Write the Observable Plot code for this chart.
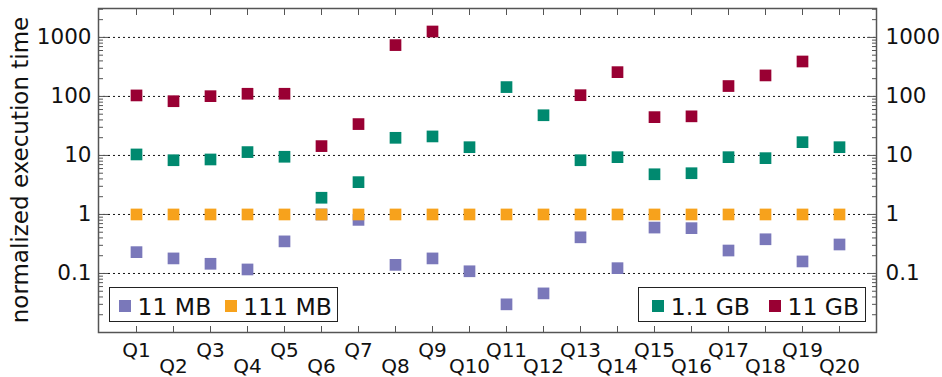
<!DOCTYPE html>
<html><head><meta charset="utf-8">
<script src="https://cdn.jsdelivr.net/npm/d3@7"></script>
<script src="https://cdn.jsdelivr.net/npm/@observablehq/plot@0.6"></script>
<style>
body{margin:0;background:#fff;font-family:"DejaVu Sans",sans-serif;}
#wrap{position:relative;width:942px;height:377px;overflow:hidden;}
.legend{position:absolute;border:1px solid #222;background:#fff;box-sizing:border-box;top:287px;height:35px;}
.sw{position:absolute;width:11.5px;height:11.5px;top:12px;}
.lt{position:absolute;font-size:23.5px;line-height:23px;top:8px;color:#111;white-space:nowrap;}
.ylab{position:absolute;left:20px;top:170px;transform:translate(-50%,-50%) rotate(-90deg);font-size:23px;line-height:23px;color:#111;white-space:nowrap;}
</style></head><body><div id="wrap"></div>
<script>
const queries = ["Q1","Q2","Q3","Q4","Q5","Q6","Q7","Q8","Q9","Q10","Q11","Q12","Q13","Q14","Q15","Q16","Q17","Q18","Q19","Q20"];
const seriesNames = ["11 MB", "111 MB", "1.1 GB", "11 GB"];
const seriesColors = ["#7a78ba", "#f7a21c", "#00896f", "#990033"];
const mb11  = [0.23, 0.18, 0.146, 0.117, 0.35, 1.0, 0.81, 0.14, 0.18, 0.109, 0.030, 0.046, 0.41, 0.123, 0.60, 0.586, 0.245, 0.38, 0.16, 0.31];
const mb111 = [1, 1, 1, 1, 1, 1, 1, 1, 1, 1, 1, 1, 1, 1, 1, 1, 1, 1, 1, 1];
const gb1_1 = [10.4, 8.3, 8.55, 11.4, 9.5, 1.92, 3.53, 19.9, 21, 13.8, 144, 48, 8.3, 9.35, 4.8, 5.0, 9.35, 9.0, 16.8, 13.8];
const gb11  = [104, 83, 101, 111, 111, 14.4, 34, 741, 1260, null, null, null, 105, 258, 44.6, 46, 150, 227, 391, null];
const yTicks = [0.1, 1, 10, 100, 1000];
const yLabel = "normalized execution time";

const yDomain = [0.01, Math.pow(10, 3.49)];
const yMinor = d3.scaleLog().domain(yDomain).ticks().filter(v => !yTicks.includes(v));
const oddQ = queries.filter((_, i) => i % 2 === 0);
const evenQ = queries.filter((_, i) => i % 2 === 1);
const allSeries = [mb11, mb111, gb1_1, gb11];

const frameColor = "#555";
const dotMarks = allSeries.map((vals, s) =>
  Plot.dot(queries, {x: d => d, y: (d, i) => vals[i], symbol: "square", r: 6.6, fill: seriesColors[s], stroke: "none"})
);

const chart = Plot.plot({
  width: 942, height: 377,
  marginLeft: 98, marginRight: 66, marginTop: 8, marginBottom: 45,
  style: {fontFamily: "DejaVu Sans, sans-serif", color: "#111", background: "#fff"},
  x: {type: "point", domain: queries, padding: 0.783, axis: null},
  y: {type: "log", domain: yDomain, axis: null},
  marks: [
    Plot.ruleY(yTicks, {stroke: "#111", strokeWidth: 1, strokeDasharray: "2,3"}),
    Plot.axisY({anchor: "left", ticks: yMinor, tickSize: -5, tickFormat: () => "", stroke: frameColor, label: null}),
    Plot.axisY({anchor: "left", ticks: yTicks, tickSize: -10, tickFormat: () => "", stroke: frameColor, label: null}),
    Plot.axisY({anchor: "right", ticks: yMinor, tickSize: -5, tickFormat: () => "", stroke: frameColor, label: null}),
    Plot.axisY({anchor: "right", ticks: yTicks, tickSize: -10, tickFormat: () => "", stroke: frameColor, label: null}),
    Plot.axisY({anchor: "left", ticks: yTicks, tickSize: 0, tickPadding: 7, tickFormat: d => String(d), fontSize: 21.5, label: null}),
    Plot.axisY({anchor: "right", ticks: yTicks, tickSize: 0, tickPadding: 9, tickFormat: d => String(d), fontSize: 21.5, label: null}),
    Plot.axisX({anchor: "bottom", ticks: queries, tickSize: -6, tickFormat: () => "", stroke: frameColor, label: null}),
    Plot.axisX({anchor: "top", ticks: queries, tickSize: -6, tickFormat: () => "", stroke: frameColor, label: null}),
    Plot.axisX({anchor: "bottom", ticks: oddQ, tickSize: 0, tickPadding: 24, lineAnchor: "bottom", fontSize: 20, label: null}),
    Plot.axisX({anchor: "bottom", ticks: evenQ, tickSize: 0, tickPadding: 40.5, lineAnchor: "bottom", fontSize: 20, label: null}),
    ...dotMarks,
    Plot.frame({stroke: frameColor, strokeWidth: 1.5})
  ]
});

const wrap = document.getElementById("wrap");
wrap.appendChild(chart);

const yl = document.createElement("div");
yl.className = "ylab";
yl.textContent = yLabel;
wrap.appendChild(yl);

function legend(left, width, items) {
  const box = document.createElement("div");
  box.className = "legend";
  box.style.left = left + "px";
  box.style.width = width + "px";
  for (const it of items) {
    const sw = document.createElement("div");
    sw.className = "sw";
    sw.style.left = it.sw + "px";
    sw.style.background = seriesColors[it.s];
    const t = document.createElement("div");
    t.className = "lt";
    t.style.left = it.t + "px";
    t.textContent = seriesNames[it.s];
    box.appendChild(sw); box.appendChild(t);
  }
  wrap.appendChild(box);
}
legend(109, 229, [{s: 0, sw: 9.3, t: 27.5}, {s: 1, sw: 115.3, t: 133.2}]);
legend(638, 228, [{s: 2, sw: 13, t: 31.8}, {s: 3, sw: 130.3, t: 148.5}]);
</script>
</body></html>
